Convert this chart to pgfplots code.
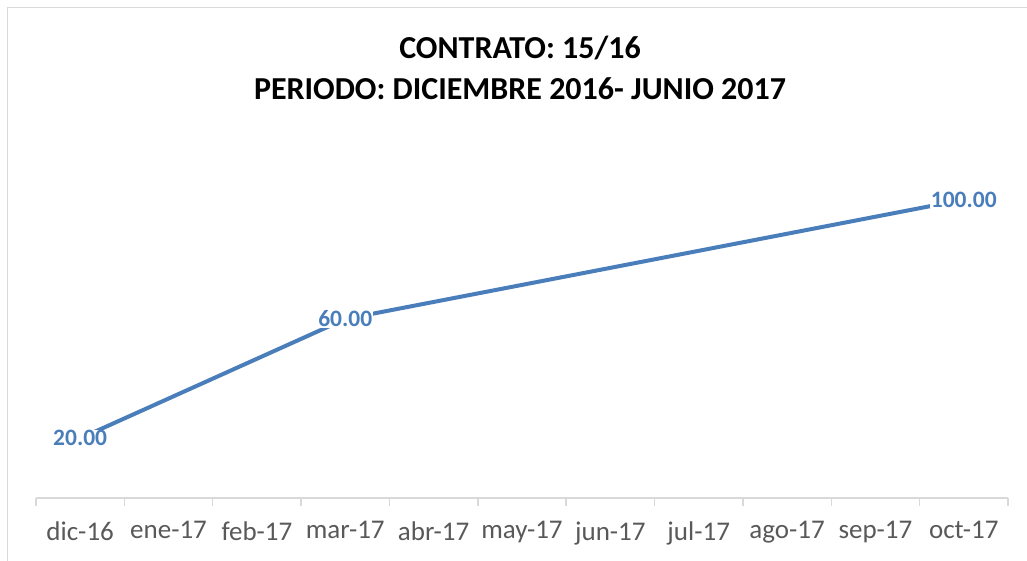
\documentclass[border=0pt]{standalone}
\usepackage{fontspec}
\setmainfont{Carlito}
\usepackage{pgfplots}
\pgfplotsset{compat=1.18}
\definecolor{serie}{HTML}{4A7EBB}
\definecolor{axgray}{HTML}{D9D9D9}
\definecolor{lblgray}{HTML}{595959}
\begin{document}
\begin{tikzpicture}
\path[use as bounding box] (0,0) rectangle (1027pt,560pt);
\draw[axgray, line width=1.5pt] (7.5pt,-20pt) rectangle (1050pt,552.5pt);
\node[font=\fontsize{32}{41}\selectfont\bfseries, align=center] at (520pt,492pt) {CONTRATO: 15/16\\PERIODO: DICIEMBRE 2016- JUNIO 2017};
\begin{axis}[
  at={(36pt,62pt)}, anchor=south west, scale only axis,
  width=972pt, height=358pt,
  xmin=-0.5, xmax=10.5, ymin=0, ymax=120,
  hide y axis, axis x line*=bottom,
  axis line style={axgray, line width=1.5pt},
  xtick={0,...,10},
  xticklabels={dic-16,ene-17,feb-17,mar-17,abr-17,may-17,jun-17,jul-17,ago-17,sep-17,oct-17},
  major tick length=0pt,
  major x tick style={draw=none},
  minor xtick={-0.5,0.5,...,10.5},
  minor x tick style={axgray, line width=1.5pt},
  minor tick length=8pt,
  tick align=outside,
  xticklabel style={font=\fontsize{27}{32}\selectfont, text=lblgray, yshift=-20pt},
  /pgf/number format/assume math mode=true,
  clip=false,
  nodes near coords={\pgfmathprintnumber[fixed,fixed zerofill,precision=2]{\pgfplotspointmeta}},
  every node near coord/.append style={anchor=center, fill=white, inner sep=1pt, text=serie, font=\fontsize{23.5}{28}\selectfont\bfseries},
]
\addplot[serie, line width=4pt, mark=none] coordinates {(0,20) (3,60) (10,100)};
\end{axis}
\end{tikzpicture}
\end{document}
